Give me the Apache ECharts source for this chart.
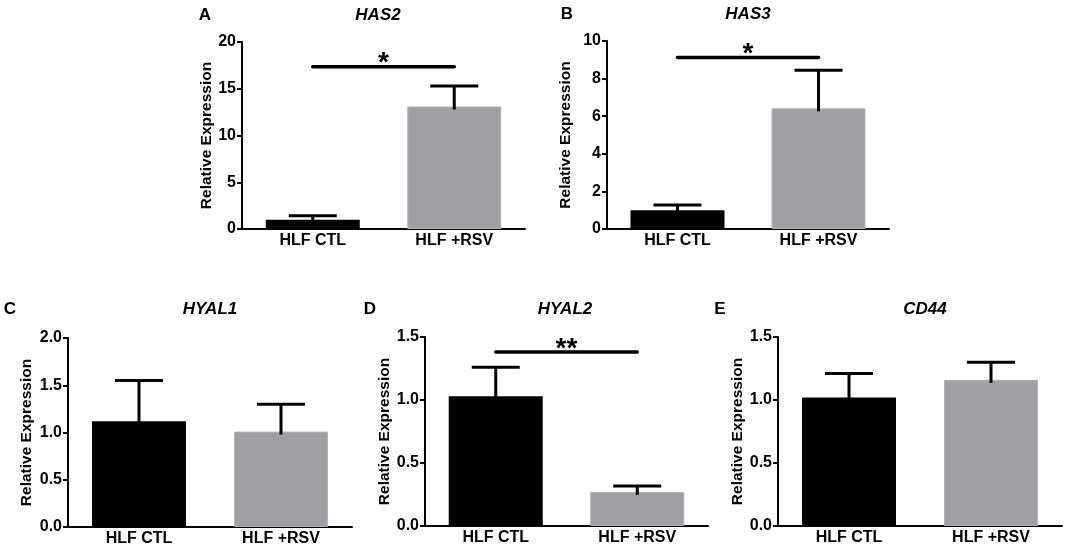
<!DOCTYPE html>
<html>
<head>
<meta charset="utf-8">
<script src="https://cdn.jsdelivr.net/npm/echarts@6/dist/echarts.min.js"></script>
<style>
  html, body { margin: 0; padding: 0; background: #fff; }
  #chart { width: 1068px; height: 550px; }
</style>
</head>
<body>
<div id="chart"></div>
<script>
// 数据
const groups = ['HLF CTL', 'HLF +RSV'];
const genes = ['HAS2', 'HAS3', 'HYAL1', 'HYAL2', 'CD44'];
const letters = ['A', 'B', 'C', 'D', 'E'];
const ctlMean = [1.0, 1.0, 1.12, 1.03, 1.02];
const ctlSem = [0.42, 0.28, 0.43, 0.23, 0.19];
const rsvMean = [13.1, 6.42, 1.01, 0.27, 1.16];
const rsvSem = [2.2, 2.03, 0.29, 0.047, 0.14];
const yMax = [20, 10, 2.0, 1.5, 1.5];
const yStep = [5, 2, 0.5, 0.5, 0.5];
const yDecimals = [0, 0, 1, 1, 1];
const sigHeight = [17.35, 9.12, null, 1.38, null];
const sigMark = ['*', '*', '', '**', ''];

// 布局
const grids = [
    {left: 242, top: 42, width: 283, height: 187},
    {left: 607, top: 41, width: 282, height: 188},
    {left: 68, top: 338, width: 284, height: 189},
    {left: 425, top: 337, width: 283, height: 189},
    {left: 778, top: 337, width: 284, height: 189}
];
const nameGaps = [26, 33, 33, 30, 29];
const titlePos = [
    {lx: 205, tx: 378, y: 15},
    {lx: 567, tx: 748, y: 14},
    {lx: 10, tx: 210, y: 309},
    {lx: 370, tx: 565, y: 309},
    {lx: 720, tx: 925, y: 309}
];

const FONT = '"Liberation Sans", Arial, sans-serif';
const GRAY = '#a09fa4';

const chart = echarts.init(document.getElementById('chart'));

const xAxes = [], yAxes = [], series = [], graphics = [];

genes.forEach(function(gene, i) {
    xAxes.push({
        type: 'category',
        gridIndex: i,
        data: groups,
        axisLine: {lineStyle: {color: '#000', width: 2}},
        axisTick: {alignWithLabel: true, length: 6, lineStyle: {color: '#000', width: 2}},
        axisLabel: {color: '#000', fontFamily: FONT, fontWeight: 'bold', fontSize: 16, margin: 4}
    });
    yAxes.push({
        type: 'value',
        gridIndex: i,
        min: 0,
        max: yMax[i],
        interval: yStep[i],
        name: 'Relative Expression',
        nameLocation: 'middle',
        nameGap: nameGaps[i],
        nameTextStyle: {color: '#000', fontFamily: FONT, fontWeight: 'bold', fontSize: 15.5},
        splitLine: {show: false},
        axisLine: {show: true, lineStyle: {color: '#000', width: 2}},
        axisTick: {show: true, length: 5, lineStyle: {color: '#000', width: 2}},
        axisLabel: {
            color: '#000', fontFamily: FONT, fontWeight: 'bold', fontSize: 16, margin: 6,
            formatter: function(v) { return v.toFixed(yDecimals[i]); }
        }
    });

    // 柱状图
    series.push({
        type: 'bar',
        xAxisIndex: i,
        yAxisIndex: i,
        barWidth: 94,
        z: 2,
        data: [
            {value: ctlMean[i], itemStyle: {color: '#000'}},
            {value: rsvMean[i], itemStyle: {color: GRAY, borderColor: '#b3b2b6', borderWidth: 1}}
        ]
    });

    // 误差线
    series.push({
        type: 'custom',
        xAxisIndex: i,
        yAxisIndex: i,
        z: 3,
        data: [
            [0, ctlMean[i], ctlMean[i] + ctlSem[i]],
            [1, rsvMean[i], rsvMean[i] + rsvSem[i]]
        ],
        renderItem: function(params, api) {
            const top = api.coord([api.value(0), api.value(2)]);
            const base = api.coord([api.value(0), api.value(1)]);
            const half = 24;
            return {
                type: 'group',
                children: [
                    {type: 'line', shape: {x1: top[0], y1: base[1] + 3, x2: top[0], y2: top[1]},
                        style: {stroke: '#000', lineWidth: 3}},
                    {type: 'line', shape: {x1: top[0] - half, y1: top[1], x2: top[0] + half, y2: top[1]},
                        style: {stroke: '#000', lineWidth: 3}}
                ]
            };
        }
    });

    // 显著性标记
    if (sigHeight[i] !== null) {
        series.push({
            type: 'custom',
            xAxisIndex: i,
            yAxisIndex: i,
            z: 4,
            data: [[0, 1, sigHeight[i]]],
            renderItem: function(params, api) {
                const p0 = api.coord([api.value(0), api.value(2)]);
                const p1 = api.coord([api.value(1), api.value(2)]);
                return {
                    type: 'group',
                    children: [
                        {type: 'line', shape: {x1: p0[0], y1: p0[1], x2: p1[0], y2: p1[1]},
                            style: {stroke: '#000', lineWidth: 3.5, lineCap: 'round'}},
                        {type: 'text', x: (p0[0] + p1[0]) / 2, y: p0[1] - 3,
                            style: {text: sigMark[i], fill: '#000', font: 'bold 28px ' + FONT,
                                align: 'center', verticalAlign: 'middle'}}
                    ]
                };
            }
        });
    }

    // 标题和字母
    graphics.push({
        type: 'text', x: titlePos[i].lx, y: titlePos[i].y,
        style: {text: letters[i], fill: '#000', font: 'bold 17px ' + FONT, align: 'center', verticalAlign: 'middle'}
    });
    graphics.push({
        type: 'text', x: titlePos[i].tx, y: titlePos[i].y,
        style: {text: gene, fill: '#000', font: 'italic bold 17px ' + FONT, align: 'center', verticalAlign: 'middle'}
    });
});

chart.setOption({
    animation: false,
    grid: grids,
    xAxis: xAxes,
    yAxis: yAxes,
    series: series,
    graphic: graphics
});

window.addEventListener('resize', function() {
    chart.resize();
});
</script>
</body>
</html>
